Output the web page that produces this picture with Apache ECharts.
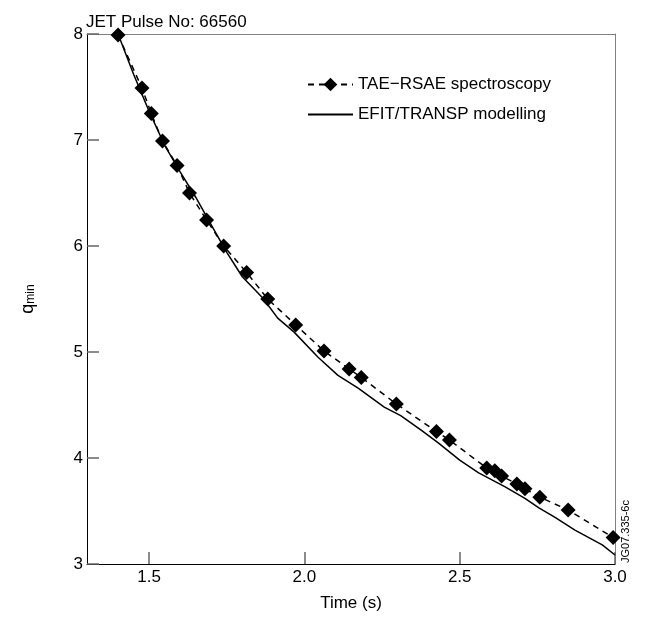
<!DOCTYPE html>
<html>
<head>
<meta charset="utf-8">
<script src="https://cdn.jsdelivr.net/npm/echarts@6/dist/echarts.min.js"></script>
<style>
  html, body { margin: 0; padding: 0; background: #fff; }
  #chart { width: 648px; height: 617px; }
</style>
</head>
<body>
<div id="chart"></div>
<script>
// TAE-RSAE spectroscopy points (time s, q_min)
var specTime = [1.40, 1.477, 1.507, 1.543, 1.59, 1.63, 1.685, 1.74, 1.814, 1.882, 1.972, 2.063, 2.144, 2.183, 2.296, 2.425, 2.467, 2.587, 2.613, 2.635, 2.684, 2.71, 2.758, 2.849, 2.994];
var specQ    = [7.99, 7.49, 7.25, 6.99, 6.76, 6.50, 6.245, 6.0, 5.75, 5.5, 5.255, 5.01, 4.84, 4.76, 4.51, 4.25, 4.17, 3.905, 3.88, 3.83, 3.755, 3.71, 3.63, 3.51, 3.25];

// EFIT/TRANSP modelling curve
var modTime = [1.40, 1.45, 1.50, 1.55, 1.60, 1.65, 1.70, 1.75, 1.80, 1.866, 1.914, 1.966, 2.044, 2.108, 2.173, 2.257, 2.31, 2.377, 2.432, 2.50, 2.561, 2.645, 2.71, 2.755, 2.807, 2.871, 2.959, 3.00];
var modQ    = [8.00, 7.62, 7.27, 6.95, 6.70, 6.46, 6.20, 5.94, 5.71, 5.51, 5.32, 5.19, 4.95, 4.78, 4.66, 4.48, 4.40, 4.26, 4.14, 3.98, 3.86, 3.73, 3.62, 3.53, 3.44, 3.32, 3.18, 3.085];

// tick positions
var xTicks = [1.5, 2.0, 2.5, 3.0];
var yTicks = [3, 4, 5, 6, 7, 8];

function pairs(xs, ys) {
  var out = [];
  for (var i = 0; i < xs.length; i++) out.push([xs[i], ys[i]]);
  return out;
}

var font = 'Liberation Sans, Arial, sans-serif';
var xMin = 1.3, xMax = 3.0;
var chart = echarts.init(document.getElementById('chart'));

// plain gray frame line for the top / right sides
var frame = {
  axisLine: { show: true, onZero: false, lineStyle: { color: '#808080', width: 1 } },
  axisTick: { show: false }, axisLabel: { show: false }, splitLine: { show: false }
};

chart.setOption({
  animation: false,
  textStyle: { fontFamily: font, color: '#000' },
  title: {
    text: 'JET Pulse No: 66560',
    left: 81, top: 9,
    textStyle: { fontSize: 17, fontWeight: 'normal', color: '#000', fontFamily: font }
  },
  legend: {
    orient: 'vertical',
    left: 302, top: 70,
    itemWidth: 45, itemHeight: 17,
    itemGap: 11,
    textStyle: { fontSize: 17, color: '#000', fontFamily: font, lineHeight: 19 },
    data: [
      { name: 'TAE\u2212RSAE spectroscopy' },
      { name: 'EFIT/TRANSP modelling', itemStyle: { opacity: 0 } }
    ]
  },
  grid: { left: 87, right: 33, top: 34, bottom: 53 },
  xAxis: [
    {
      type: 'value', min: xMin, max: xMax,
      name: 'Time (s)', nameLocation: 'middle', nameGap: 31,
      nameTextStyle: { fontSize: 17, color: '#000', fontFamily: font },
      axisLine: { show: true, onZero: false, lineStyle: { color: '#000', width: 1 } },
      axisTick: { show: true, inside: true, length: 12, lineStyle: { color: '#666', width: 1.5 }, customValues: xTicks },
      axisLabel: {
        fontSize: 17, color: '#000', margin: 5, customValues: xTicks,
        formatter: function (v) { return Number(v).toFixed(1); }
      },
      splitLine: { show: false }
    },
    Object.assign({ type: 'value', min: xMin, max: xMax, position: 'top' }, frame)
  ],
  yAxis: [
    {
      type: 'value', min: yTicks[0], max: yTicks[yTicks.length - 1], interval: 1,
      name: '{a|q}{b|min}', nameLocation: 'middle', nameGap: 50,
      nameTextStyle: {
        rich: {
          a: { fontSize: 18, color: '#000', fontFamily: font },
          b: { fontSize: 12, color: '#000', fontFamily: font, verticalAlign: 'bottom', padding: [6, 0, 0, 0] }
        }
      },
      axisLine: { show: true, onZero: false, lineStyle: { color: '#000', width: 1 } },
      axisTick: { show: true, inside: true, length: 12, lineStyle: { color: '#666', width: 1.5 } },
      axisLabel: { fontSize: 17, color: '#000', margin: 4 },
      splitLine: { show: false }
    },
    Object.assign({ type: 'value', min: yTicks[0], max: yTicks[yTicks.length - 1], position: 'right' }, frame)
  ],
  graphic: [{
    type: 'text', x: 631, y: 563, rotation: Math.PI / 2,
    style: { text: 'JG07.335-6c', fontSize: 11, fill: '#000', fontFamily: font, textAlign: 'left', textVerticalAlign: 'bottom' }
  }],
  series: [
    {
      name: 'TAE\u2212RSAE spectroscopy',
      type: 'line',
      data: pairs(specTime, specQ),
      symbol: 'diamond', symbolSize: 15,
      itemStyle: { color: '#000' },
      lineStyle: { color: '#000', width: 1.5, type: [6, 5] },
      z: 3
    },
    {
      name: 'EFIT/TRANSP modelling',
      type: 'line',
      data: pairs(modTime, modQ),
      showSymbol: false, symbol: 'none',
      itemStyle: { color: '#000', opacity: 0 },
      lineStyle: { color: '#000', width: 1.5, opacity: 1 },
      z: 2
    }
  ]
});
</script>
</body>
</html>
